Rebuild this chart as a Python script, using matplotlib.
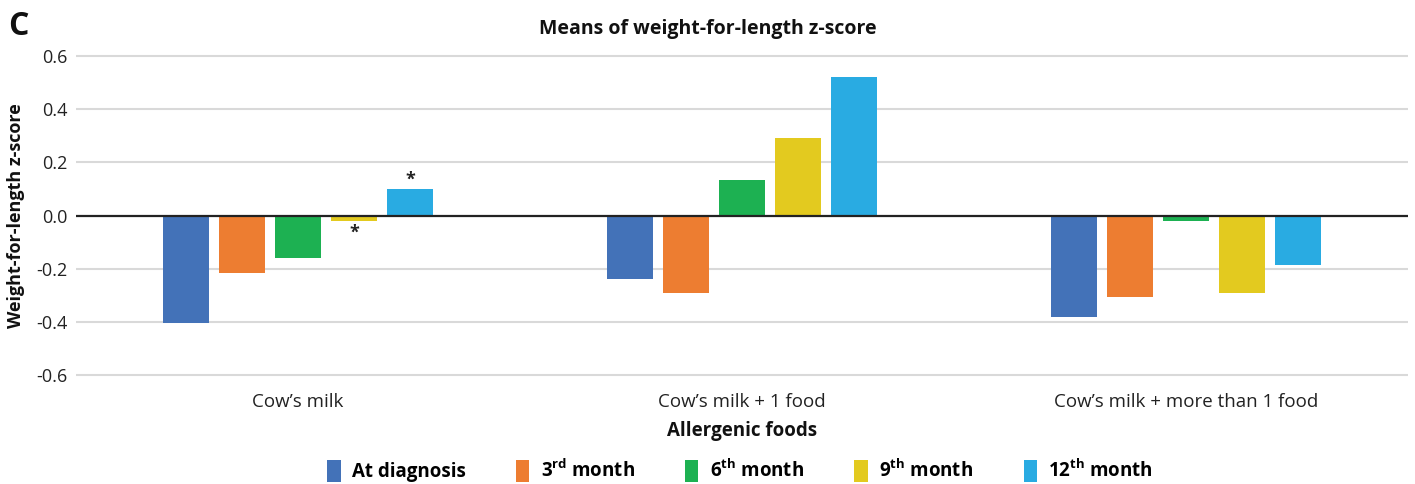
import matplotlib
matplotlib.use("Agg")
import matplotlib.pyplot as plt
import numpy as np
from matplotlib.patches import Patch

categories = ["Cow\u2019s milk", "Cow\u2019s milk + 1 food", "Cow\u2019s milk + more than 1 food"]
series_names = ["At diagnosis", r"3$^{\mathbf{rd}}$ month", r"6$^{\mathbf{th}}$ month",
                r"9$^{\mathbf{th}}$ month", r"12$^{\mathbf{th}}$ month"]
at_diagnosis = [-0.405, -0.24, -0.38]
month3 = [-0.214, -0.29, -0.305]
month6 = [-0.158, 0.132, -0.019]
month9 = [-0.021, 0.29, -0.29]
month12 = [0.101, 0.519, -0.184]
colors = ["#4372B8", "#ED7D31", "#1DB152", "#E3CA1F", "#29ABE2"]
yticks = [-0.6, -0.4, -0.2, 0.0, 0.2, 0.4, 0.6]
# significance marks: (category index, series index)
stars = [(0, 3), (0, 4)]

plt.rcParams['font.family'] = ['Open Sans', 'DejaVu Sans']
plt.rcParams['mathtext.fontset'] = 'custom'
plt.rcParams['mathtext.bf'] = 'Open Sans:bold'
plt.rcParams['mathtext.rm'] = 'Open Sans'

fig = plt.figure(figsize=(14.15, 4.84), dpi=100)
ax = fig.add_axes([0.0537, 0.2025, 0.9413, 0.7045])

series = [at_diagnosis, month3, month6, month9, month12]
x = np.arange(len(categories))
step = 0.126
width = 0.1036
for i, vals in enumerate(series):
    ax.bar(x + (i - 2) * step, vals, width, color=colors[i], zorder=3)

for ci, si in stars:
    v = series[si][ci]
    yy = v + 0.035 if v > 0 else v - 0.045
    ax.text(ci + (si - 2) * step, yy, "*", ha="center", va="center",
            fontsize=13, fontweight="bold", color="#222222", zorder=4)

ax.set_xlim(-0.5, 2.5)
ax.set_ylim(-0.64, 0.64)
ax.set_yticks(yticks)
ax.set_yticklabels([f"{t:.1f}" for t in yticks], fontsize=13, color="#222222")
for t in yticks:
    if t != 0:
        ax.axhline(t, color="#d9d9d9", lw=1.5, zorder=1)
ax.axhline(0, color="#222222", lw=1.6, zorder=4)
ax.set_xticks(x)
ax.set_xticklabels(categories, fontsize=13.5, color="#222222")
ax.tick_params(axis="both", length=0, pad=6)
ax.tick_params(axis="x", pad=5)
for s in ax.spines.values():
    s.set_visible(False)

ax.set_xlabel("Allergenic foods", fontsize=13.5, fontweight="bold", labelpad=7, color="#111111")
ax.set_ylabel("Weight-for-length z-score", fontsize=13, fontweight="bold", color="#111111", labelpad=8)
fig.text(0.5, 0.94, "Means of weight-for-length z-score", ha="center", va="center",
         fontsize=14, fontweight="bold", color="#111111")
fig.text(0.006, 0.946, "C", ha="left", va="center", fontsize=23, fontweight="bold", color="#111111")

handles = [Patch(facecolor=c, edgecolor="none") for c in colors]
fig.legend(handles, series_names, loc="center", bbox_to_anchor=(0.523, 0.027), ncol=5,
           frameon=False, handlelength=0.7, handleheight=1.4, handletextpad=0.6,
           columnspacing=2.7, prop={"weight": "bold", "size": 13.5})

fig.savefig("out.png", dpi=100)
